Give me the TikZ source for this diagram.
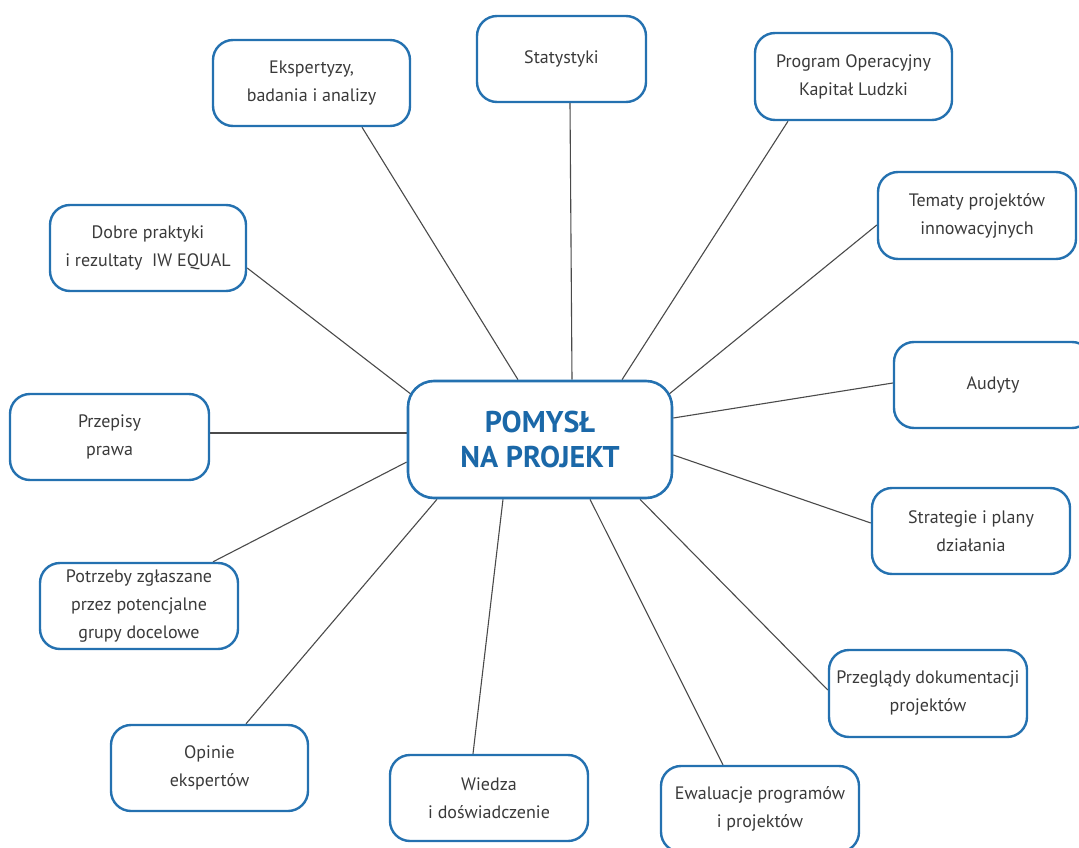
\documentclass[tikz,border=0pt]{standalone}
\usepackage{fontspec}
\setmainfont{PT Sans}
\usetikzlibrary{backgrounds}
\definecolor{bord}{HTML}{2471B0}
\definecolor{titl}{HTML}{1B68A8}
\definecolor{txt}{HTML}{3A3A3A}
\definecolor{conn}{HTML}{4A4A4A}
\tikzset{
  box/.style={draw=bord, line width=2.4pt, rounded corners=20pt, fill=white,
    minimum width=198pt, minimum height=86pt, align=center, text=txt,
    font=\fontsize{18}{28}\selectfont, inner sep=2pt},
  hub/.style={draw=bord, line width=2.6pt, rounded corners=26pt, fill=white,
    minimum width=264pt, minimum height=117pt, align=center, text=titl,
    font=\fontsize{30}{35}\selectfont\bfseries},
  conline/.style={draw=conn, line width=1.1pt}
}
\begin{document}
\begin{tikzpicture}[x=1pt,y=-1pt]
\useasboundingbox (0,0) rectangle (1079,848);
\clip (0,0) rectangle (1079,848);
\node[hub] (c) at (540,439.5) {POMYSŁ\\NA PROJEKT};
\node[box, minimum width=169pt, minimum height=86pt] (stat) at (561.5,59) {Statystyki};
\node[box, minimum width=197pt] (eksp) at (311.5,83) {Ekspertyzy,\\badania i analizy};
\node[box, minimum width=197pt, minimum height=87pt] (prog) at (853.5,76.5) {Program Operacyjny\\Kapitał Ludzki};
\node[box, minimum width=196pt] (dobre) at (148,248) {Dobre praktyki\\i rezultaty\ \ IW EQUAL};
\node[box, minimum height=87pt] (tem) at (977,215.5) {Tematy projektów\\innowacyjnych};
\node[box, minimum width=199pt] (prz) at (109.5,437) {Przepisy\\prawa};
\node[box] (aud) at (993,385) {Audyty};
\node[box] (str) at (971,531) {Strategie i plany\\działania};
\node[box] (pot) at (139,606) {Potrzeby zgłaszane\\przez potencjalne\\grupy docelowe};
\node[box, minimum height=87pt] (prze) at (928,693.5) {Przeglądy dokumentacji\\projektów};
\node[box, minimum width=197pt] (op) at (209.5,768) {Opinie\\ekspertów};
\node[box] (wie) at (489,798) {Wiedza\\i doświadczenie};
\node[box] (ew) at (760,809) {Ewaluacje programów\\i projektów};
\begin{scope}[on background layer]
\draw[conline] ([xshift=8.5pt]stat.south) -- ([xshift=32pt]c.north);
\draw[conline] ([xshift=50.5pt]eksp.south) -- ([xshift=-22pt]c.north);
\draw[conline] ([xshift=-65.5pt]prog.south) -- ([xshift=82pt]c.north);
\draw[conline] ([yshift=-20pt]dobre.east) -- ([xshift=6pt,yshift=44pt]c.west);
\draw[conline] ([yshift=-9.5pt]tem.west) -- ([xshift=-6pt,yshift=44pt]c.east);
\draw[conline] ([yshift=4pt]prz.east) -- ([yshift=6.5pt]c.west);
\draw[conline] ([yshift=2pt]aud.west) -- ([yshift=21.5pt]c.east);
\draw[conline] ([yshift=8pt]str.west) -- ([yshift=-15.5pt]c.east);
\draw[conline] ([xshift=74pt]pot.north) -- ([yshift=-22.5pt]c.west);
\draw[conline] ([yshift=3.5pt]prze.west) -- ([xshift=100pt]c.south);
\draw[conline] ([xshift=36.5pt]op.north) -- ([xshift=-103pt]c.south);
\draw[conline] ([xshift=-16pt]wie.north) -- ([xshift=-37pt]c.south);
\draw[conline] ([xshift=-37pt]ew.north) -- ([xshift=50pt]c.south);
\end{scope}
\end{tikzpicture}
\end{document}
